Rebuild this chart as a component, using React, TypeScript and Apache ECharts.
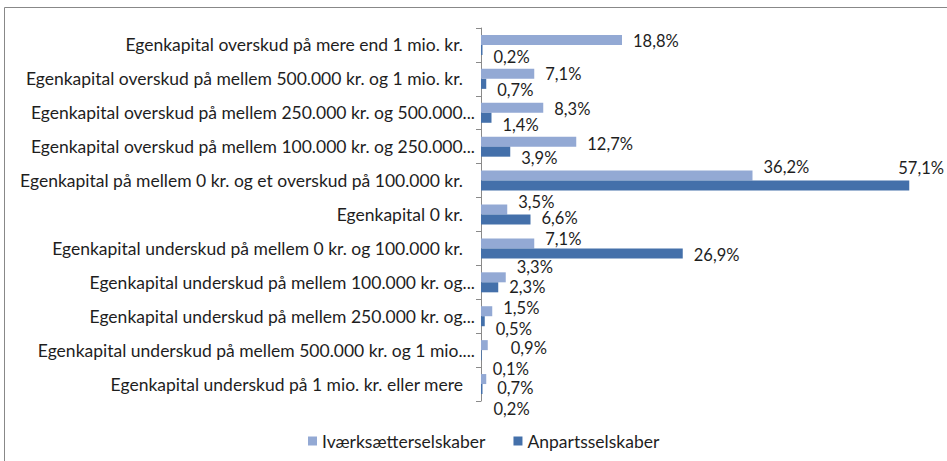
import React, { useEffect, useRef } from "react";
import * as echarts from "echarts";

const categories: string[] = [
  "Egenkapital overskud på mere end 1 mio. kr.",
  "Egenkapital overskud på mellem 500.000 kr. og 1 mio. kr.",
  "Egenkapital overskud på mellem 250.000 kr. og 500.000...",
  "Egenkapital overskud på mellem 100.000 kr. og 250.000...",
  "Egenkapital på mellem 0 kr. og et overskud på 100.000 kr.",
  "Egenkapital 0 kr.",
  "Egenkapital underskud på mellem 0 kr. og 100.000 kr.",
  "Egenkapital underskud på mellem 100.000 kr. og...",
  "Egenkapital underskud på mellem 250.000 kr. og...",
  "Egenkapital underskud på mellem 500.000 kr. og 1 mio....",
  "Egenkapital underskud på 1 mio. kr. eller mere",
];

const ivaerksaetter: number[] = [18.8, 7.1, 8.3, 12.7, 36.2, 3.5, 7.1, 3.3, 1.5, 0.9, 0.7];
const anparts: number[] = [0.2, 0.7, 1.4, 3.9, 57.1, 6.6, 26.9, 2.3, 0.5, 0.1, 0.2];

const seriesNames: string[] = ["Iværksætterselskaber", "Anpartsselskaber"];

// label offsets (styling only)
const lightOffsets: number[][] = [[0, 1], [0, 0.5], [0, 1.5], [0, 2], [0, -9], [0, -8], [0, -4], [0, -10], [0, -3.5], [12, 3], [0, 9]];
const darkOffsets: number[][] = [[0, 7], [0, 6.5], [0, 7.5], [0, 6], [-22, -18], [0, -1.5], [0, 1.5], [0, 0], [0, 7.5], [0, 13.5], [0, 19.5]];

const FONT = "Lato";
const FS = 17.5;
const VFS = 16.5;
const TEXT = "#1e1e1e";
const LIGHT = "#93a9d4";
const DARK = "#4470aa";

const fmt = (v: number) => v.toFixed(1).replace(".", ",") + "%";

export default function App() {
  const ref = useRef<HTMLDivElement>(null);
  useEffect(() => {
    if (!ref.current) return;
    const chart = echarts.init(ref.current, null, { renderer: "svg" });
    const mk = (vals: number[], offs: number[][]) =>
      vals.map((v, i) => ({ value: v, label: { offset: offs[i] } }));
    const lbl = {
      show: true,
      position: "right",
      distance: 11,
      fontSize: VFS,
      lineHeight: 16,
      color: TEXT,
      fontFamily: FONT,
      formatter: (p: any) => fmt(p.value),
    };
    chart.setOption({
      animation: false,
      textStyle: { fontFamily: FONT },
      grid: { left: 481, right: 16, top: 28, bottom: 60, outerBoundsMode: "none" },
      xAxis: {
        type: "value",
        min: 0,
        max: 60,
        show: false,
      },
      yAxis: {
        type: "category",
        data: categories,
        inverse: true,
        axisLine: { show: true, lineStyle: { color: "#8a8a8a", width: 1 } },
        axisTick: { show: true, length: 5, lineStyle: { color: "#8a8a8a" } },
        axisLabel: {
          margin: 6,
          fontSize: FS,
          color: TEXT,
          fontFamily: FONT,
          formatter: (s: string) => (s.endsWith("...") ? `{t|${s}}` : `{f|${s}}`),
          rich: {
            f: { fontSize: FS, color: TEXT, fontFamily: FONT, padding: [0, 12, 0, 0] },
            t: { fontSize: FS, color: TEXT, fontFamily: FONT },
          },
        },
        splitLine: { show: false },
      },
      legend: {
        left: 303,
        top: 427,
        icon: "rect",
        itemWidth: 9,
        itemHeight: 9,
        itemGap: 28,
        textStyle: { fontSize: FS, color: TEXT, fontFamily: FONT },
        data: seriesNames,
      },
      series: [
        {
          name: seriesNames[0],
          type: "bar",
          data: mk(ivaerksaetter, lightOffsets),
          barWidth: 10,
          barGap: "0%",
          itemStyle: { color: LIGHT },
          label: lbl,
        },
        {
          name: seriesNames[1],
          type: "bar",
          data: mk(anparts, darkOffsets),
          barWidth: 10,
          barGap: "0%",
          itemStyle: { color: DARK },
          label: lbl,
        },
      ],
      graphic: [
        { type: "line", shape: { x1: 4.5, y1: 7.5, x2: 947, y2: 7.5 }, style: { stroke: "#888888", lineWidth: 1 } },
        { type: "line", shape: { x1: 4.5, y1: 7.5, x2: 4.5, y2: 461 }, style: { stroke: "#888888", lineWidth: 1 } },
      ],
    });
    return () => chart.dispose();
  }, []);
  return (
    <div
      ref={ref}
      style={{ position: "absolute", left: 0, top: 0, width: 947, height: 461, background: "#fff" }}
    />
  );
}
